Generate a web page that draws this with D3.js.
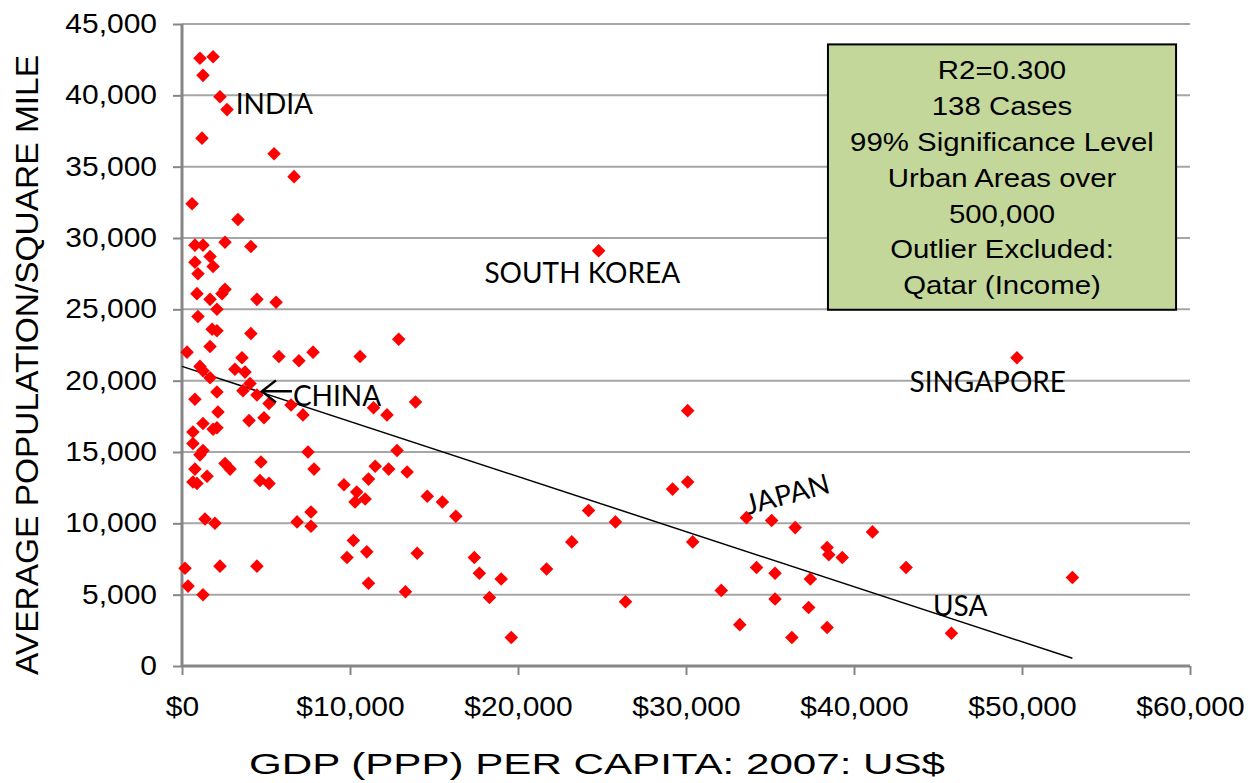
<!DOCTYPE html>
<html>
<head>
<meta charset="utf-8">
<script src="https://cdn.jsdelivr.net/npm/d3@7"></script>
<style>
  body { margin: 0; background: #fff; }
  svg { display: block; }
</style>
</head>
<body>
<div id="chart"></div>
<script>
// GDP (PPP) per capita, US$ 2007
const gdp = [
  1070, 1850, 1250, 2260, 2680, 1190, 5480, 6670, 600, 3330,
  770, 1250, 2560, 4100, 1670, 770, 1850, 950, 2560, 2380,
  890, 1670, 2080, 4460, 5600, 950, 1790, 2080, 4100, 1670,
  300, 3570, 5770, 6960, 7800, 10600, 1070, 3150, 3750, 1250,
  1670, 4050, 3630, 4460, 2080, 770, 5180, 6490, 7200, 2140,
  3990, 4880, 1250, 1850, 2080, 650, 650, 1250, 1070, 7500,
  770, 1490, 650, 890, 2560, 2860, 4700, 4640, 5180, 7860,
  9640, 10400, 10300, 10900, 11100, 1370, 1960, 7680, 6850, 7680,
  10200, 11000, 9820, 180, 2260, 4460, 360, 1250, 11100, 12900,
  13900, 11400, 12200, 12800, 11500, 12300, 13400, 14600, 15500, 16300,
  24200, 25800, 14000, 17400, 17700, 19000, 18300, 21700, 23200, 13300,
  19600, 26400, 24800, 30100, 30100, 29200, 30400, 33600, 35100, 36500,
  41100, 38400, 38500, 39300, 34200, 35300, 37400, 32100, 35300, 37300,
  33200, 38400, 36300, 49700, 43100, 53000, 45800
]
// average population per square mile
const density = [
  42600, 42700, 41400, 39900, 39000, 37000, 35900, 34300, 32400, 31300,
  29500, 29500, 29700, 29400, 28700, 28300, 28000, 27500, 26400, 26100,
  26100, 25700, 25000, 25700, 25500, 24500, 23600, 23500, 23300, 22400,
  22000, 21600, 21700, 21400, 22000, 21700, 21000, 20800, 20600, 20700,
  20200, 19800, 19300, 19000, 19200, 18700, 18400, 18300, 17600, 17800,
  17200, 17400, 17000, 16600, 16700, 16400, 15600, 15100, 14800, 15000,
  13800, 13300, 12900, 12800, 14200, 13800, 14300, 13000, 12800, 13800,
  12700, 12200, 11500, 11700, 13100, 10300, 10000, 10800, 10100, 9800,
  8800, 8000, 7600, 6850, 7000, 7000, 5600, 5000, 5800, 22900,
  18500, 18100, 17600, 15100, 14000, 13800, 13600, 11900, 11500, 10500,
  10900, 10100, 7900, 7600, 6500, 6100, 4800, 6800, 8700, 5200,
  2000, 4500, 29100, 17900, 12900, 12400, 8700, 10400, 10200, 9700,
  9400, 8300, 7800, 7600, 6900, 6500, 6100, 5300, 4700, 4100,
  2900, 2700, 2000, 21600, 6900, 6200, 2300
]
const xTicks = [0, 10000, 20000, 30000, 40000, 50000, 60000]
const yTicks = [0, 5000, 10000, 15000, 20000, 25000, 30000, 35000, 40000, 45000]

// linear trend line end points (x, y)
const trendX = [0, 53000]
const trendY = [21000, 540]

const labelNames = ['INDIA', 'SOUTH KOREA', 'SINGAPORE', 'JAPAN', 'USA', 'CHINA']
const labelGdp = [3200, 18000, 43300, 33700, 44700, 6600]
const labelDensity = [38700, 26850, 19200, 10600, 3500, 18250]
const labelAngle = [0, 0, 0, -15, 0, 0]

const statLines = [
  'R2=0.300', '138 Cases', '99% Significance Level', 'Urban Areas over',
  '500,000', 'Outlier Excluded:', 'Qatar (Income)'
]

const W = 1259, H = 783
const margin = { top: 24, right: 69, bottom: 117, left: 182 }
const width = W - margin.left - margin.right
const height = H - margin.top - margin.bottom

const svg = d3.select('#chart').append('svg')
    .attr('width', W)
    .attr('height', H)

const g = svg.append('g')
    .attr('transform', 'translate(' + margin.left + ',' + margin.top + ')')

const x = d3.scaleLinear().domain([0, 60000]).range([0, width])
const y = d3.scaleLinear().domain([0, 45000]).range([height, 0])

const axisFont = '"Liberation Sans", Arial, sans-serif'
const labelFont = 'Lato, "Open Sans", sans-serif'

// widen text glyphs a bit, the original rendering is wider than Liberation Sans
function stretch(sel, k) {
    sel.each(function () {
        const len = this.getComputedTextLength()
        d3.select(this)
            .attr('textLength', len * k)
            .attr('lengthAdjust', 'spacingAndGlyphs')
    })
}

// grid lines
g.append('g')
    .selectAll('line')
    .data(yTicks.slice(1))
    .enter().append('line')
        .attr('x1', 0)
        .attr('x2', width)
        .attr('y1', d => y(d))
        .attr('y2', d => y(d))
        .attr('stroke', '#a6a6a6')
        .attr('stroke-width', 2)

// axes
const yAxis = d3.axisLeft(y)
    .tickValues(yTicks)
    .tickSize(9)
    .tickPadding(16)
    .tickFormat(d3.format(','))

const xAxis = d3.axisBottom(x)
    .tickValues(xTicks)
    .tickSize(9)
    .tickPadding(22)
    .tickFormat(d => '$' + d3.format(',')(d))

const gy = g.append('g').call(yAxis)
const gx = g.append('g').attr('transform', 'translate(0,' + height + ')').call(xAxis)

;[gx, gy].forEach(a => {
    a.select('.domain').attr('stroke', '#868686').attr('stroke-width', 3)
    a.selectAll('.tick line').attr('stroke', '#868686').attr('stroke-width', 2)
    a.selectAll('.tick text')
        .attr('fill', '#000')
        .style('font-family', axisFont)
        .style('font-size', '27px')
        .call(stretch, 1.11)
})
gy.select('.domain').attr('d', 'M0,' + height + 'V0')
gx.select('.domain').attr('d', 'M0,0H' + width)

// axis titles
svg.append('text')
    .attr('x', 597)
    .attr('y', 774)
    .attr('text-anchor', 'middle')
    .style('font-family', axisFont)
    .style('font-size', '30px')
    .attr('textLength', 696)
    .attr('lengthAdjust', 'spacingAndGlyphs')
    .text('GDP (PPP) PER CAPITA: 2007: US$')

svg.append('text')
    .attr('transform', 'translate(38,365) rotate(-90)')
    .attr('text-anchor', 'middle')
    .style('font-family', axisFont)
    .style('font-size', '32px')
    .attr('textLength', 620)
    .attr('lengthAdjust', 'spacingAndGlyphs')
    .text('AVERAGE POPULATION/SQUARE MILE')

// trend line
g.append('line')
    .attr('x1', x(trendX[0]))
    .attr('y1', y(trendY[0]))
    .attr('x2', x(trendX[1]))
    .attr('y2', y(trendY[1]))
    .attr('stroke', '#000')
    .attr('stroke-width', 1.5)

// points
const diamond = d3.symbol().type(d3.symbolSquare).size(92)
g.append('g')
    .selectAll('path')
    .data(gdp.map((v, i) => ({ gdp: v, density: density[i] })))
    .enter().append('path')
        .attr('d', diamond)
        .attr('transform', d => 'translate(' + x(d.gdp) + ',' + y(d.density) + ') rotate(45)')
        .attr('fill', '#ff0000')

// country labels
g.append('g')
    .selectAll('text')
    .data(labelNames)
    .enter().append('text')
        .attr('transform', (d, i) => 'translate(' + x(labelGdp[i]) + ',' + y(labelDensity[i]) + ') rotate(' + labelAngle[i] + ')')
        .style('font-family', labelFont)
        .style('font-size', '28px')
        .attr('fill', '#000')
        .text(d => d)

// arrow pointing to China
const ax0 = x(4760), ay0 = y(19250)
g.append('path')
    .attr('d', 'M' + (ax0 + 30) + ',' + ay0 + 'H' + ax0 + 'M' + (ax0 + 14) + ',' + (ay0 - 11) +
        'L' + ax0 + ',' + ay0 + 'L' + (ax0 + 14) + ',' + (ay0 + 11))
    .attr('fill', 'none')
    .attr('stroke', '#000')
    .attr('stroke-width', 2.5)

// stats box
const bx0 = x(38450), bx1 = x(59170), by0 = y(43570), by1 = y(24970)
g.append('rect')
    .attr('x', bx0)
    .attr('y', by0)
    .attr('width', bx1 - bx0)
    .attr('height', by1 - by0)
    .attr('fill', '#c4d79b')
    .attr('stroke', '#000')
    .attr('stroke-width', 2)

g.append('g')
    .selectAll('text')
    .data(statLines)
    .enter().append('text')
        .attr('x', (bx0 + bx1) / 2)
        .attr('y', (d, i) => by0 + 35 + i * 35.8)
        .attr('text-anchor', 'middle')
        .style('font-family', axisFont)
        .style('font-size', '26px')
        .text(d => d)
        .call(stretch, 1.13)
</script>
</body>
</html>
